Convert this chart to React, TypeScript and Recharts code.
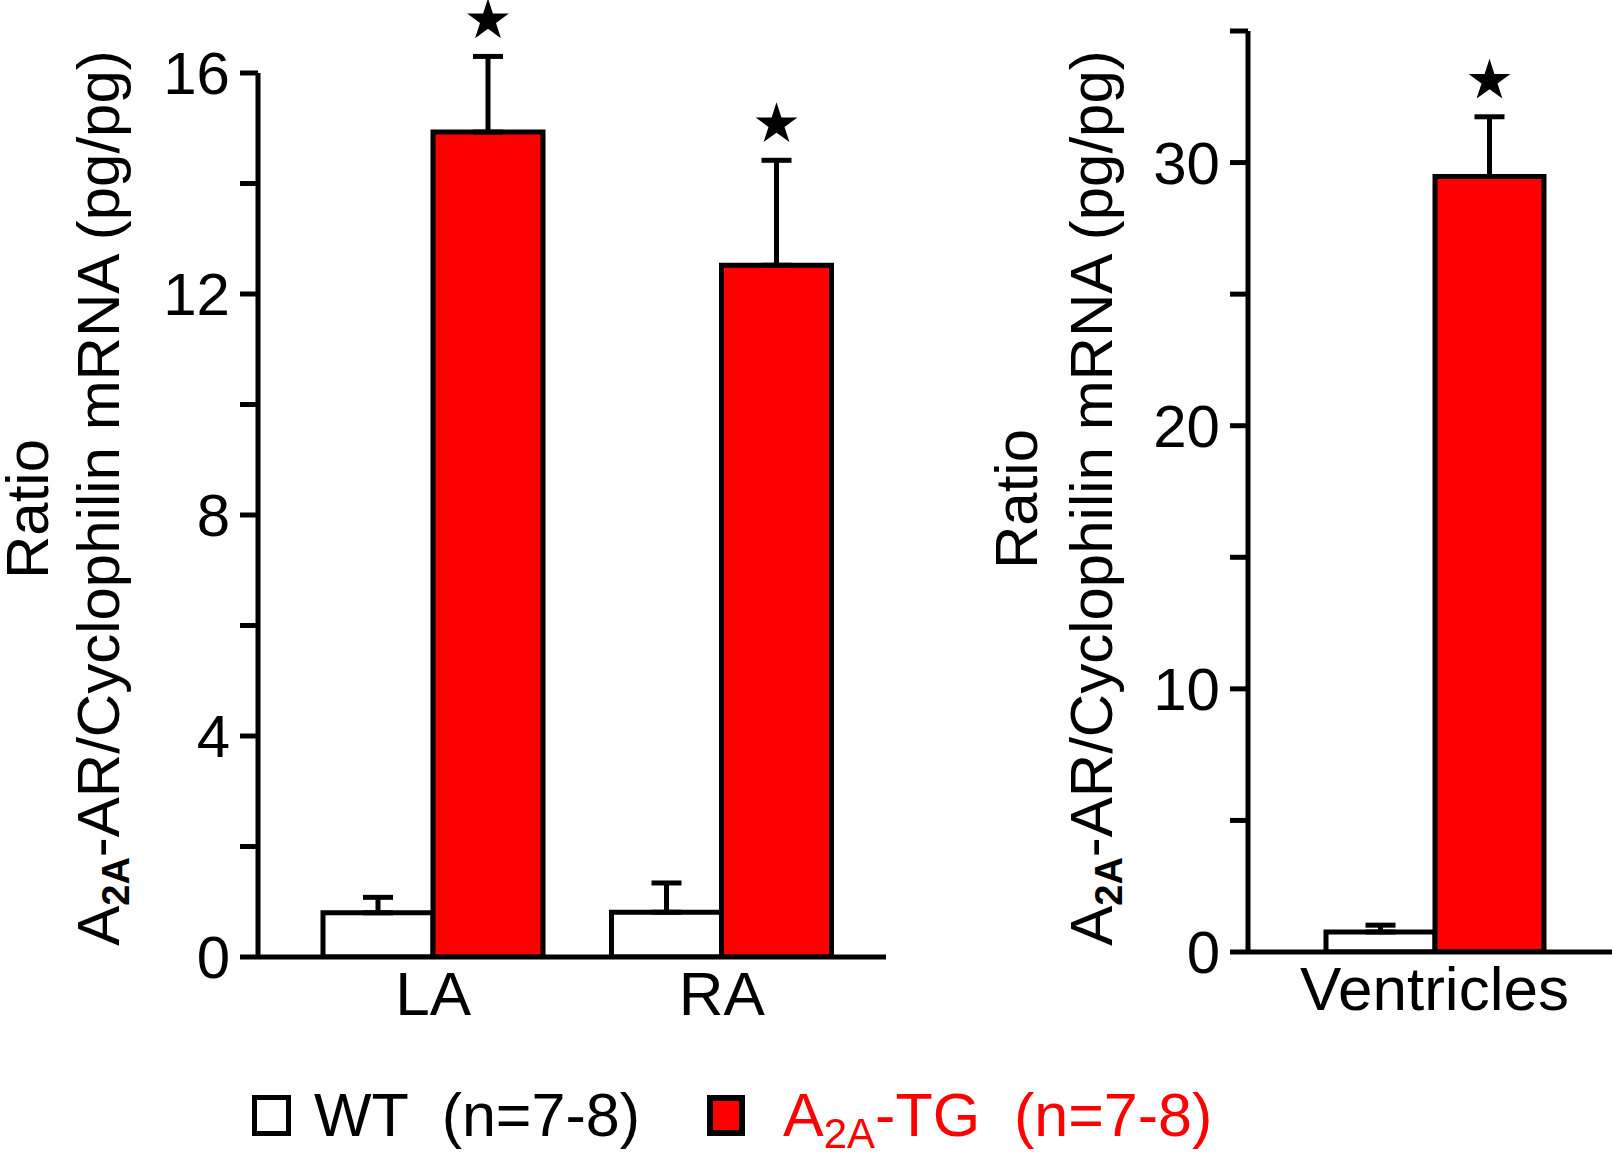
import { Bar, BarChart, ErrorBar, LabelList, XAxis, YAxis } from 'recharts';

const FONT = '"Liberation Sans", Arial, Helvetica, sans-serif';
const RED = '#ff0000';

// atria panel
const atriaCategories = ['LA', 'RA'];
const atriaWT = [0.8, 0.81];
const atriaWTErr = [0.28, 0.53];
const atriaTG = [14.93, 12.52];
const atriaTGErr = [1.37, 1.9];
const atriaTicks = [0, 2, 4, 6, 8, 10, 12, 14, 16];
const atriaTickLabels = [0, 4, 8, 12, 16];

// ventricle panel
const ventCategories = ['Ventricles'];
const ventWT = [0.76];
const ventWTErr = [0.26];
const ventTG = [29.47];
const ventTGErr = [2.27];
const ventTicks = [0, 5, 10, 15, 20, 25, 30, 35];
const ventTickLabels = [0, 10, 20, 30];

const buildRows = (cats: string[], wt: number[], wtErr: number[], tg: number[], tgErr: number[]) =>
  cats.map((cat, i) => ({
    cat,
    wt: wt[i],
    wtErr: [0, wtErr[i]],
    tg: tg[i],
    tgErr: [0, tgErr[i]],
  }));

const atriaRows = buildRows(atriaCategories, atriaWT, atriaWTErr, atriaTG, atriaTGErr);
const ventRows = buildRows(ventCategories, ventWT, ventWTErr, ventTG, ventTGErr);

function starPath(cx: number, cy: number, r: number) {
  const pts: string[] = [];
  for (let k = 0; k < 10; k++) {
    const rad = k % 2 === 0 ? r : r * 0.382;
    const a = -Math.PI / 2 + (k * Math.PI) / 5;
    pts.push(`${(cx + rad * Math.cos(a)).toFixed(1)},${(cy + rad * Math.sin(a)).toFixed(1)}`);
  }
  return `M${pts.join('L')}Z`;
}

// star sits above the top of the error bar; pixel scale taken from the bar itself
const makeStar = (errs: number[]) => (props: any) => {
  const vb = props.viewBox ?? props;
  const value = Number(props.value);
  const idx = props.index;
  if (!vb || !value || idx == null) return null;
  const pxPerUnit = Math.abs(vb.height) / value;
  const top = Math.min(vb.y, vb.y + vb.height);
  const cx = vb.x + vb.width / 2;
  const cy = top - errs[idx] * pxPerUnit - 36;
  return <path d={starPath(cx, cy, 22)} fill="#000" />;
};

function AxisTitle({ ratioX, mainX, ratioCy, mainCy }: { ratioX: number; mainX: number; ratioCy: number; mainCy: number }) {
  return (
    <g fontFamily={FONT} fill="#000">
      <text x={ratioX} y={ratioCy} textAnchor="middle" fontSize={60} transform={`rotate(-90, ${ratioX}, ${ratioCy})`}>
        Ratio
      </text>
      <text x={mainX} y={mainCy} textAnchor="middle" fontSize={60} transform={`rotate(-90, ${mainX}, ${mainCy})`}>
        A
        <tspan fontSize={38} fontWeight="bold" dy={10}>
          2A
        </tspan>
        <tspan dy={-10}>-AR/Cyclophilin mRNA (pg/pg)</tspan>
      </text>
    </g>
  );
}

const axisStroke = { stroke: '#000', strokeWidth: 5 };

function Panel({
  rows,
  ticks,
  tickLabels,
  max,
  tgErr,
  width,
  height,
  top,
  right,
  axisWidth,
  padding,
  barSize,
  title,
}: any) {
  return (
    <BarChart
      width={width}
      height={height}
      data={rows}
      margin={{ top, right, bottom: 0, left: 0 }}
      barGap={0}
      barSize={barSize}
    >
      <XAxis
        dataKey="cat"
        tickLine={false}
        axisLine={axisStroke}
        tick={{ fill: '#000', fontSize: 62, fontFamily: FONT }}
        tickMargin={8}
        height={70}
        padding={padding}
        interval={0}
      />
      <YAxis
        type="number"
        domain={[0, max]}
        ticks={ticks}
        interval={0}
        allowDataOverflow
        width={axisWidth}
        tickSize={18}
        tickMargin={10}
        axisLine={axisStroke}
        tickLine={axisStroke}
        tick={{ fill: '#000', fontSize: 60, fontFamily: FONT }}
        tickFormatter={(v: number) => (tickLabels.includes(v) ? String(v) : '')}
        label={title}
      />
      <Bar dataKey="wt" fill="#ffffff" stroke="#000" strokeWidth={5} isAnimationActive={false}>
        <ErrorBar dataKey="wtErr" direction="y" width={15} stroke="#000" strokeWidth={5} isAnimationActive={false} />
      </Bar>
      <Bar dataKey="tg" fill={RED} stroke="#000" strokeWidth={5} isAnimationActive={false}>
        <ErrorBar dataKey="tgErr" direction="y" width={15} stroke="#000" strokeWidth={5} isAnimationActive={false} />
        <LabelList dataKey="tg" content={makeStar(tgErr)} />
      </Bar>
    </BarChart>
  );
}

export default function App() {
  return (
    <div style={{ position: 'absolute', left: 0, top: 0, width: 1612, height: 1153, background: '#fff', overflow: 'hidden' }}>
      <div style={{ position: 'absolute', left: 0, top: 0 }}>
        <Panel
          rows={atriaRows}
          ticks={atriaTicks}
          tickLabels={atriaTickLabels}
          max={16}
          tgErr={atriaTGErr}
          width={900}
          height={1027}
          top={73}
          right={14}
          axisWidth={258}
          padding={{ left: 31, right: 20 }}
          barSize={110}
          title={<AxisTitle ratioX={48} mainX={119} ratioCy={509} mainCy={498} />}
        />
      </div>
      <div style={{ position: 'absolute', left: 940, top: 0 }}>
        <Panel
          rows={ventRows}
          ticks={ventTicks}
          tickLabels={ventTickLabels}
          max={35}
          tgErr={ventTGErr}
          width={672}
          height={1022}
          top={31}
          right={0}
          axisWidth={308}
          padding={{ left: 9, right: 0 }}
          barSize={109}
          title={<AxisTitle ratioX={97} mainX={172} ratioCy={499} mainCy={498} />}
        />
      </div>
      <svg style={{ position: 'absolute', left: 0, top: 1058 }} width={1612} height={95} fontFamily={FONT} fontSize={61}>
        <rect x={254.5} y={39.5} width={34} height={36} fill="#fff" stroke="#000" strokeWidth={5} />
        <text x={314} y={78} fill="#000" xmlSpace="preserve">
          WT  (n=7-8)
        </text>
        <rect x={710} y={40} width={32} height={35} fill={RED} stroke="#000" strokeWidth={6} />
        <text x={783} y={78} fill={RED} xmlSpace="preserve">
          A
          <tspan fontSize={42} dy={12}>
            2A
          </tspan>
          <tspan dy={-12}>-TG  (n=7-8)</tspan>
        </text>
      </svg>
    </div>
  );
}
